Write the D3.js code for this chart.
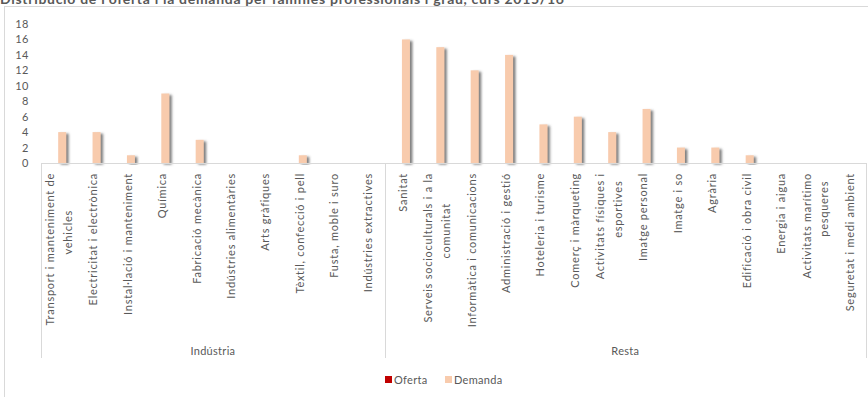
<!DOCTYPE html>
<html><head><meta charset="utf-8">
<script src="https://cdn.jsdelivr.net/npm/d3@7/dist/d3.min.js"></script>
<style>
html,body{margin:0;padding:0;background:#fff;}
svg{display:block;font-family:Lato,"Open Sans",sans-serif;}
</style></head>
<body>
<svg id="chart" width="868" height="397"></svg>
<script>
const title = "Distribució de l'oferta i la demanda per famílies professionals i grau, curs 2015/16";
const groupNames = ["Indústria", "Resta"];
const industriaCats = ["Transport i manteniment de\nvehicles","Electricitat i electrònica","Instal·lació i manteniment","Química","Fabricació mecànica","Indústries alimentàries","Arts gràfiques","Tèxtil, confecció i pell","Fusta, moble i suro","Indústries extractives"];
const restaCats = ["Sanitat","Serveis socioculturals i a la\ncomunitat","Informàtica i comunicacions","Administració i gestió","Hoteleria i turisme","Comerç i màrqueting","Activitats físiques i\nesportives","Imatge personal","Imatge i so","Agrària","Edificació i obra civil","Energia i aigua","Activitats marítimo\npesqueres","Seguretat i medi ambient"];
const ofertaIndustria = [0,0,0,0,0,0,0,0,0,0];
const demandaIndustria = [4,4,1,9,3,0,0,1,0,0];
const ofertaResta = [0,0,0,0,0,0,0,0,0,0,0,0,0,0];
const demandaResta = [16,15,12,14,5,6,4,7,2,2,1,0,0,0];
const seriesNames = ["Oferta","Demanda"];
const seriesColors = ["#C00000","#F8CBAD"];
const yTicks = [0,2,4,6,8,10,12,14,16,18];

(function(){
const categories = industriaCats.concat(restaCats);
const groupOf = industriaCats.map(()=>0).concat(restaCats.map(()=>1));
const oferta = ofertaIndustria.concat(ofertaResta);
const demanda = demandaIndustria.concat(demandaResta);
const data = categories.map((c,i)=>({cat:c, group:groupOf[i], Oferta:oferta[i], Demanda:demanda[i]}));

const svg = d3.select("#chart");
const grey = "#595959", lineC = "#d9d9d9";
const pLeft = 41, pRight = 866, pTop = 24, pBottom = 163;
const fs = 11, ls = 0.75;

svg.append("text").attr("x",0).attr("y",4).attr("font-size",14).attr("font-weight","bold")
  .attr("letter-spacing",0.7).attr("fill",grey).text(title);

svg.append("rect").attr("x",4.5).attr("y",6.5).attr("width",870).attr("height",400)
  .attr("fill","#fff").attr("stroke",lineC);

const defs = svg.append("defs");
const f = defs.append("filter").attr("id","sh").attr("x","-50%").attr("y","-20%").attr("width","250%").attr("height","140%");
f.append("feDropShadow").attr("dx",2.5).attr("dy",1.5).attr("stdDeviation",1.1).attr("flood-color","#555").attr("flood-opacity",0.75);

const x = d3.scaleBand().domain(d3.range(categories.length)).range([pLeft,pRight]).paddingInner(0).paddingOuter(0);
const step = x.step();
const x1 = d3.scaleBand().domain(seriesNames).range([step/2-8, step/2+8]);
const y = d3.scaleLinear().domain([0,18]).range([pBottom,pTop]);

const yAxis = d3.axisLeft(y).tickValues(yTicks).tickSize(0).tickPadding(0);
const ya = svg.append("g").attr("transform","translate(29,0)").call(yAxis);
ya.select(".domain").remove();
ya.selectAll("text").attr("fill",grey).attr("font-size",11).attr("letter-spacing",0.5).attr("font-family","Lato,sans-serif");

const cg = svg.append("g").selectAll("g").data(data).join("g")
  .attr("transform",(d,i)=>`translate(${x(i)},0)`);
cg.selectAll("rect").data(d=>seriesNames.map((s,k)=>({s,k,v:d[s]}))).join("rect")
  .attr("x",d=>x1(d.s)).attr("width",x1.bandwidth())
  .attr("y",d=>y(d.v)).attr("height",d=>y(0)-y(d.v))
  .attr("fill",d=>seriesColors[d.k])
  .attr("filter",d=>d.v>0?"url(#sh)":null);

const axBottom = 358;
svg.append("line").attr("x1",pLeft).attr("x2",pRight).attr("y1",pBottom+0.5).attr("y2",pBottom+0.5).attr("stroke",lineC);
const groupStarts = [0, industriaCats.length, categories.length];
groupStarts.forEach(gi=>{
  const xx = gi<categories.length ? x(gi) : pRight;
  svg.append("line").attr("x1",Math.round(xx)+0.5).attr("x2",Math.round(xx)+0.5).attr("y1",pBottom).attr("y2",axBottom).attr("stroke",lineC);
});

const lab = svg.append("g");
data.forEach((d,i)=>{
  const lines = d.cat.split("\n");
  const cx = x(i)+step/2+1;
  const g = lab.append("g").attr("transform",`translate(${cx},173) rotate(-90)`);
  const lh = 17.5;
  const n = lines.length;
  const t0 = g.append("text").attr("x",0).attr("y",(0-(n-1)/2)*lh).attr("dy","0.35em")
    .attr("text-anchor","end").attr("font-size",fs).attr("letter-spacing",ls).attr("fill",grey).text(lines[0]);
  if(n>1){
    const len = t0.node().getComputedTextLength();
    for(let k=1;k<n;k++){
      g.append("text").attr("x",-len/2+17).attr("y",(k-(n-1)/2)*lh).attr("dy","0.35em")
        .attr("text-anchor","middle").attr("font-size",fs).attr("letter-spacing",ls).attr("fill",grey).text(lines[k]);
    }
  }
});

groupNames.forEach((gname,gi)=>{
  const x0 = x(groupStarts[gi]);
  const xEnd = groupStarts[gi+1]<categories.length ? x(groupStarts[gi+1]) : pRight;
  svg.append("text").attr("x",(x0+xEnd)/2).attr("y",351).attr("dy","0.35em").attr("text-anchor","middle")
    .attr("font-size",fs).attr("letter-spacing",0.3).attr("fill",grey).text(gname);
});

const leg = svg.append("g");
const legX = [385, 445];
seriesNames.forEach((s,k)=>{
  leg.append("rect").attr("x",legX[k]).attr("y",376).attr("width",7).attr("height",7).attr("fill",seriesColors[k]);
  leg.append("text").attr("x",legX[k]+9).attr("y",380).attr("dy","0.35em").attr("font-size",fs).attr("letter-spacing",0.3).attr("fill",grey).text(s);
});
})();
</script>
</body></html>
